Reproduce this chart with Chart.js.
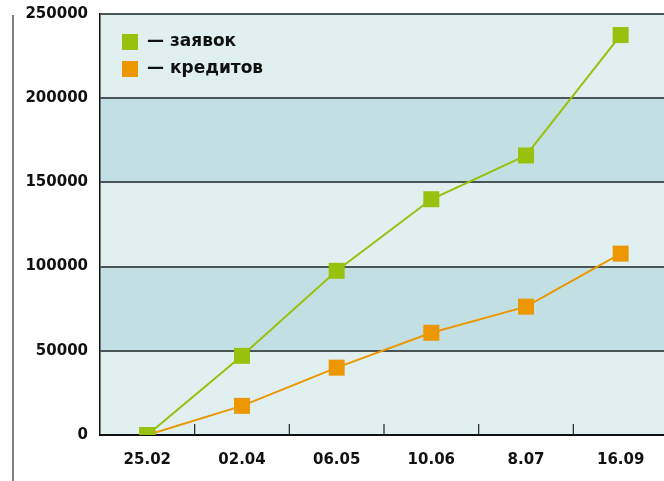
<!DOCTYPE html>
<html lang="ru">
<head>
    <meta charset="UTF-8">
    <title>Заявки и кредиты</title>
    <script src="https://cdn.jsdelivr.net/npm/chart.js"></script>
    <style>
        html, body {
            margin: 0;
            padding: 0;
            background: #ffffff;
            overflow: hidden;
        }
        .wrap {
            width: 668px;
            height: 481px;
        }
    </style>
</head>
<body>
    <div class="wrap"><canvas id="chart" width="668" height="481"></canvas></div>
    <script>
        // data
        const dates = ['25.02', '02.04', '06.05', '10.06', '8.07', '16.09'];
        const zayavok = [0, 47000, 97500, 140000, 166000, 237500];
        const kreditov = [0, 17300, 40000, 60700, 76200, 107700];
        const yTicks = [0, 50000, 100000, 150000, 200000, 250000];
        const seriesNames = ['— заявок', '— кредитов'];

        const green = '#97c10c';
        const orange = '#ec9600';
        const bandLight = '#e0eff0';
        const bandDark = '#c2e0e3';
        const font = 'DejaVu Sans';

        // kill the auto padding chart.js adds for overhanging labels
        function noPad(s) {
            s.paddingTop = 0;
            s.paddingBottom = 0;
            s.paddingLeft = 0;
            s.paddingRight = 0;
        }

        // striped background + left rule + x tick marks + legend
        const decor = {
            id: 'decor',
            beforeDraw(chart) {
                const { ctx, chartArea: a, scales: { y } } = chart;
                ctx.save();
                for (let i = 0; i < yTicks.length - 1; i++) {
                    const top = y.getPixelForValue(yTicks[i + 1]);
                    const bot = y.getPixelForValue(yTicks[i]);
                    ctx.fillStyle = i % 2 === 0 ? bandLight : bandDark;
                    ctx.fillRect(a.left, top, a.right - a.left, bot - top);
                }
                ctx.strokeStyle = '#555';
                ctx.lineWidth = 1.5;
                ctx.beginPath();
                ctx.moveTo(13, 15);
                ctx.lineTo(13, 481);
                ctx.stroke();
                ctx.restore();
            },
            afterDatasetsDraw(chart) {
                const { ctx, chartArea: a, scales: { x } } = chart;
                ctx.save();
                ctx.strokeStyle = '#222';
                ctx.lineWidth = 1.2;
                for (let i = 1; i < dates.length; i++) {
                    const px = (x.getPixelForValue(i - 1) + x.getPixelForValue(i)) / 2;
                    ctx.beginPath();
                    ctx.moveTo(px, a.bottom);
                    ctx.lineTo(px, a.bottom - 11);
                    ctx.stroke();
                }
                ctx.font = 'bold 17px "' + font + '"';
                ctx.textBaseline = 'middle';
                chart.data.datasets.forEach((ds, i) => {
                    const yy = 42 + i * 27;
                    ctx.fillStyle = ds.backgroundColor;
                    ctx.fillRect(122, yy - 8, 16, 16);
                    ctx.fillStyle = '#111';
                    ctx.fillText(ds.label, 147, yy);
                });
                ctx.restore();
            }
        };

        const chart = new Chart(document.getElementById('chart'), {
            type: 'line',
            data: {
                labels: dates,
                datasets: [
                    {
                        label: seriesNames[0],
                        data: zayavok,
                        borderColor: green,
                        backgroundColor: green,
                        borderWidth: 2,
                        pointStyle: 'rect',
                        pointRadius: 11.3,
                        pointBorderWidth: 0,
                        tension: 0
                    },
                    {
                        label: seriesNames[1],
                        data: kreditov,
                        borderColor: orange,
                        backgroundColor: orange,
                        borderWidth: 2,
                        pointStyle: 'rect',
                        pointRadius: 11.3,
                        pointBorderWidth: 0,
                        tension: 0
                    }
                ]
            },
            options: {
                responsive: false,
                animation: false,
                layout: { padding: { top: 14, right: 0, left: 0, bottom: 0 } },
                plugins: {
                    legend: { display: false },
                    tooltip: { enabled: false }
                },
                scales: {
                    x: {
                        offset: true,
                        grid: { display: false, drawTicks: false },
                        border: { display: true, color: '#111', width: 2 },
                        ticks: {
                            color: '#111',
                            padding: 16,
                            font: { family: font, weight: 'bold', size: 15 }
                        },
                        afterFit(s) { s.height = 46; noPad(s); }
                    },
                    y: {
                        min: 0,
                        max: 250000,
                        afterBuildTicks(s) { s.ticks = yTicks.map(v => ({ value: v })); },
                        grid: { color: '#4a5556', lineWidth: 2, drawTicks: false },
                        border: { display: true, color: '#111', width: 1.5 },
                        ticks: {
                            color: '#111',
                            padding: 12,
                            font: { family: font, weight: 'bold', size: 15 },
                            callback: v => String(v)
                        },
                        afterFit(s) { s.width = 100; noPad(s); }
                    }
                }
            },
            plugins: [decor]
        });

        // big square markers make chart.js shrink the plot; the reference lets them overhang
        chart.data.datasets.forEach((ds, i) => {
            chart.getDatasetMeta(i).controller.getMaxOverflow = () => 0;
        });
        chart.update();
    </script>
</body>
</html>
